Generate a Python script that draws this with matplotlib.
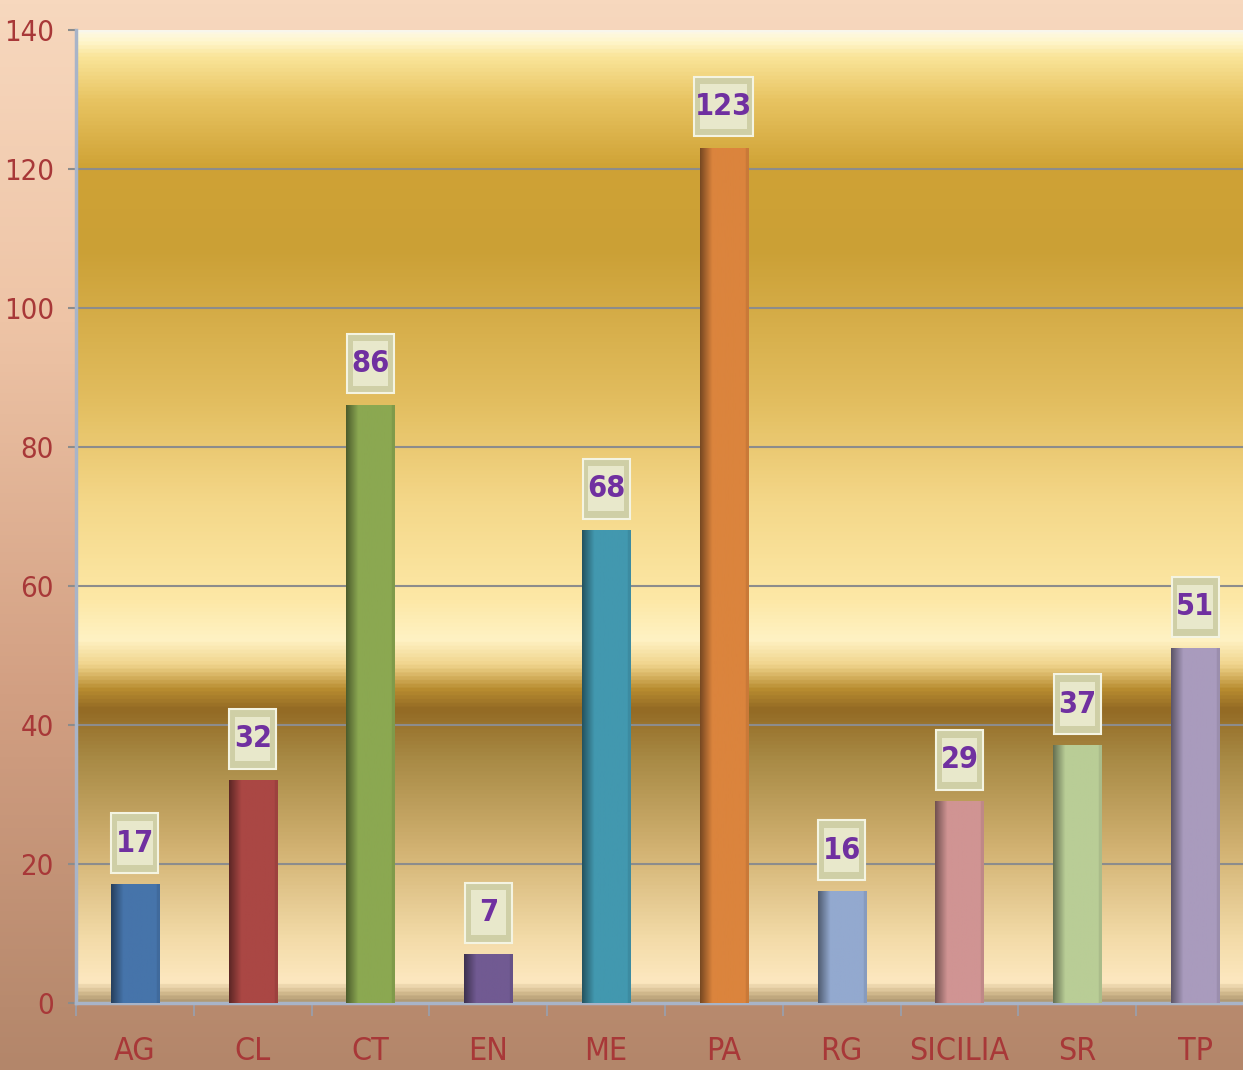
import numpy as np
import matplotlib.pyplot as plt
from matplotlib.colors import LinearSegmentedColormap, to_rgb
from matplotlib.patches import Rectangle

categories = ['AG', 'CL', 'CT', 'EN', 'ME', 'PA', 'RG', 'SICILIA', 'SR', 'TP']
values = [17, 32, 86, 7, 68, 123, 16, 29, 37, 51]
bar_colors = ['#4674aa', '#aa4744', '#8ba851', '#715a92', '#4298af',
              '#db843d', '#93a9cf', '#d09493', '#b9cd96', '#a99bbd']
y_ticks = [0, 20, 40, 60, 80, 100, 120, 140]

plt.rcParams['font.family'] = ['DejaVu Sans']
plt.rcParams['font.stretch'] = 'condensed'

W, H = 1243, 1070
fig = plt.figure(figsize=(W / 100, H / 100), dpi=100)

# figure background gradient
bg = fig.add_axes([0, 0, 1, 1], zorder=-10)
bg_cmap = LinearSegmentedColormap.from_list('bg', [
    (0.0, '#b3866a'), (0.35, '#d29f82'), (0.7, '#eec4a6'), (1.0, '#f7d8be')])
bg.imshow(np.linspace(0, 1, 256).reshape(-1, 1), cmap=bg_cmap, aspect='auto',
          origin='lower', extent=(0, 1, 0, 1))
bg.axis('off')

left = 76 / W
bottom = (H - 1003) / H
top = (H - 30) / H
right = (76 + 10 * 117.8) / W
ax = fig.add_axes([left, bottom, right - left, top - bottom])

# golden plot area gradient (0 = bottom, 1 = top)
area_cmap = LinearSegmentedColormap.from_list('area', [
    (0.0, '#b09a74'), (0.006, '#c9b084'), (0.02, '#fde8c0'), (0.065, '#f3dba8'),
    (0.157, '#d2b272'), (0.25, '#a88a45'), (0.301, '#936a24'), (0.322, '#b88c30'),
    (0.347, '#f0d48c'), (0.373, '#fff2c4'), (0.414, '#fde8a6'), (0.517, '#f4d788'),
    (0.62, '#e2bd5f'), (0.775, '#cba036'), (0.86, '#cfa235'), (0.93, '#e8c462'),
    (0.975, '#fae59a'), (0.99, '#fff6cc'), (1.0, '#fdf8e4')])
ax.imshow(np.linspace(0, 1, 512).reshape(-1, 1), cmap=area_cmap, aspect='auto',
          origin='lower', extent=(-0.5, 9.5, 0, 140), zorder=0)

x = np.arange(len(categories))
bw = 0.41
ax.bar(x, values, width=bw, color=bar_colors, zorder=3)

# cylinder-like shading on each bar
n = 60
t = np.linspace(0, 1, n)
shade = np.where(t < 0.25, 0.55 + 0.45 * (t / 0.25), 1.0)
shade = np.where(t > 0.94, 0.92, shade)
for xi, v, c in zip(x, values, bar_colors):
    rgb = np.array(to_rgb(c))
    img = (rgb[None, :] * shade[:, None])[None, :, :]
    ax.imshow(img, aspect='auto', extent=(xi - bw / 2, xi + bw / 2, 0, v), zorder=4)

# value label boxes
for xi, v in zip(x, values):
    bwid = 0.40 if v < 100 else 0.50
    bh = 8.6
    cy = v + 6.0
    ax.add_patch(Rectangle((xi - bwid / 2, cy - bh / 2), bwid, bh,
                           facecolor='#cfcfa6', edgecolor='#f4f4e2', lw=1.5, zorder=5))
    ax.add_patch(Rectangle((xi - bwid / 2 + 0.05, cy - bh / 2 + 1.1), bwid - 0.1, bh - 2.2,
                           facecolor='#e8e8cb', edgecolor='none', zorder=5))
    ax.text(xi, cy, str(v), ha='center', va='center', fontsize=22,
            fontweight='bold', color='#7030a0', zorder=6)

ax.set_xlim(-0.5, 9.5)
ax.set_ylim(0, 140)
ax.set_yticks(y_ticks)
for yt in y_ticks[1:-1]:
    ax.axhline(yt, color='#8c8c8c', lw=1.5, zorder=1)
ax.axhline(140, color='#f8f6ec', lw=3, zorder=2)

ax.set_xticks(x)
ax.set_xticklabels(categories)
ax.set_xticks(np.arange(-0.5, 10, 1), minor=True)
ax.tick_params(axis='x', which='major', length=0, pad=24, labelsize=23,
               labelcolor='#a83838')
ax.tick_params(axis='x', which='minor', length=9, width=1.2, color='#98a0b0')
ax.tick_params(axis='y', length=6, width=1.5, color='#8c8c8c', pad=10,
               labelsize=21, labelcolor='#a83838')

for s in ['top', 'right']:
    ax.spines[s].set_visible(False)
ax.spines['left'].set_color('#a8b4c8')
ax.spines['left'].set_linewidth(2.5)
ax.spines['bottom'].set_color('#a8b4c8')
ax.spines['bottom'].set_linewidth(2.5)

fig.savefig('out.png', dpi=100)
